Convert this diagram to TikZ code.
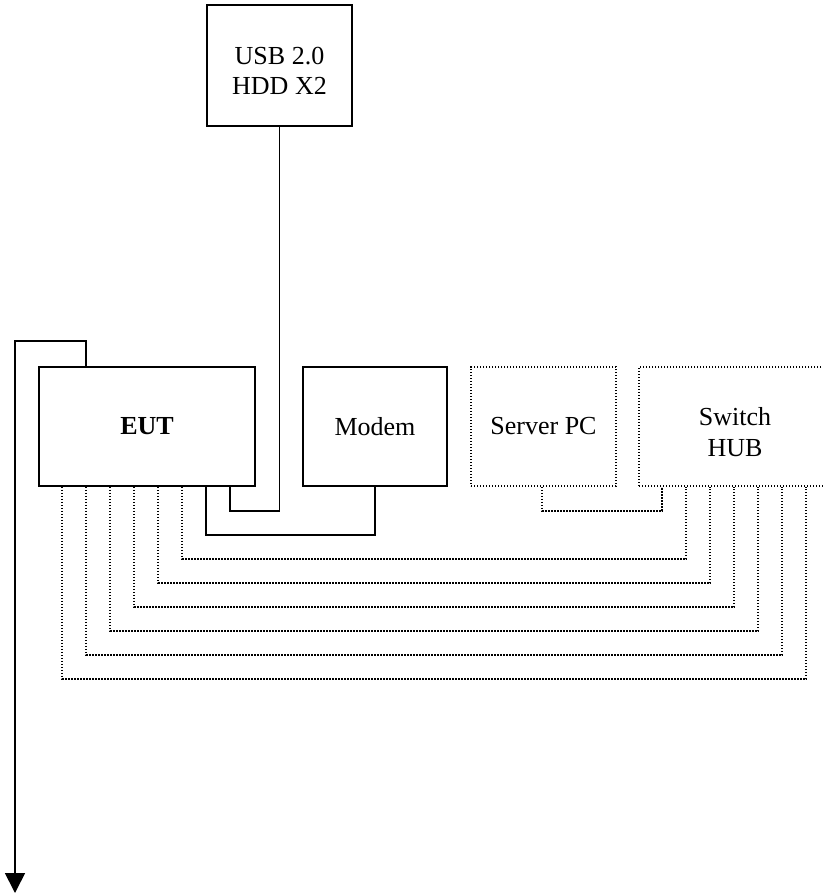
\documentclass[tikz,border=0pt]{standalone}
\usepackage{fontspec}
\setmainfont{Liberation Serif}
\usetikzlibrary{arrows.meta,calc}
\begin{document}
\begin{tikzpicture}[x=0.5pt,y=-0.5pt,
  box/.style={draw,line width=0.85pt,inner sep=0pt,align=center,font=\fontsize{13}{15.5}\selectfont},
  dbox/.style={box,line width=0.8pt,dash pattern=on 0.7pt off 0.8pt},
  wire/.style={line width=0.85pt},
  dotwire/.style={line width=0.8pt,dash pattern=on 0.7pt off 0.8pt}]
\useasboundingbox (0,0) rectangle (823,895);
\node[box,minimum width=72.5pt,minimum height=60.5pt] (usb) at (279.5,65.5) {\raisebox{-4pt}[\height][\depth]{\begin{tabular}{@{}c@{}}USB 2.0\\[-0.5pt]HDD X2\end{tabular}}};
\node[box,minimum width=108pt,minimum height=59.5pt] (eut) at (147,426.5) {\textbf{EUT}};
\node[box,minimum width=72pt,minimum height=59.5pt] (modem) at (375,426.5) {Modem};
\node[dbox,minimum width=72.5pt,minimum height=59.5pt] (srv) at (543.5,426.5) {Server PC};
\node[dbox,minimum width=96pt,minimum height=59.5pt] (sw) at (735,426.5) {\raisebox{-4pt}[\height][\depth]{\begin{tabular}{@{}c@{}}Switch\\HUB\end{tabular}}};
\coordinate (down) at (15,893);
% solid wires
\draw[wire] (usb.south) |- ($(eut.south west)+(192,24)$) -- ($(eut.south west)+(192,0)$);
\draw[wire] ($(eut.south west)+(168,0)$) -- ++(0,48) -| (modem.south);
\draw[wire,-{Triangle[width=10pt,length=10pt]}] ($(eut.north west)+(48,0)$) -- ++(0,-25) -| (down);
% dotted wires
\draw[dotwire] ($(srv.south west)+(72,0)$) -- ++(0,24) -| ($(sw.south west)+(24,0)$);
\foreach \e/\w/\d in {144/48/72, 120/72/96, 96/96/120, 72/120/144, 48/144/168, 24/168/192}
  \draw[dotwire] ($(eut.south west)+(\e,0)$) -- ++(0,\d) -| ($(sw.south west)+(\w,0)$);
\end{tikzpicture}
\end{document}
